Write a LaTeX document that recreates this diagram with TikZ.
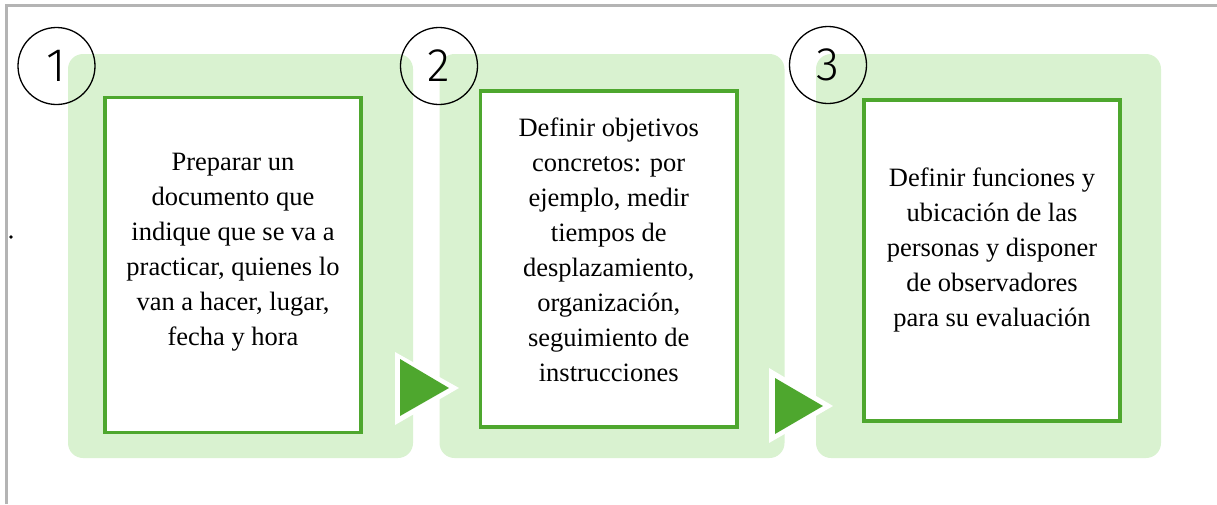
\documentclass[tikz,border=0pt]{standalone}
\usepackage{fontspec}
\setmainfont{Liberation Serif}
\IfFontExistsTF{Fira Sans Light}{\newfontfamily\numfont{Fira Sans Light}}{%
  \IfFontExistsTF{Lato Light}{\newfontfamily\numfont{Lato Light}}{%
    \IfFontExistsTF{Open Sans Light}{\newfontfamily\numfont{Open Sans Light}}{\newfontfamily\numfont{Lato}}}}
\definecolor{panelgreen}{HTML}{D9F2D0}
\definecolor{boxgreen}{HTML}{4EA72E}
\definecolor{framegray}{HTML}{B4B4B4}
\begin{document}
\begin{tikzpicture}[x=1pt,y=-1pt,
  panel/.style={fill=panelgreen, rounded corners=15pt, inner sep=0pt, minimum width=345pt, minimum height=404pt},
  stepbox/.style={draw=boxgreen, line width=3.5pt, fill=white, inner sep=0pt},
  steptext/.style={align=center, text=black, font=\fontsize{26.5pt}{35pt}\selectfont, inner sep=0pt},
  numcircle/.style={circle, draw=black, line width=1.3pt, minimum size=77pt, inner sep=0pt, font=\numfont\fontsize{47pt}{47pt}\selectfont},
]
\useasboundingbox (0,0) rectangle (1217,504);
% frame
\draw[framegray, line width=3pt] (6.5,504) -- (6.5,5) -- (1217,5);
\fill (11,237) circle (1.8pt);
% panels
\node[panel] (p1) at (240.5,256) {};
\node[panel] (p2) at (612,256) {};
\node[panel] (p3) at (988.5,256) {};
% boxes
\node[stepbox, minimum width=256pt, minimum height=335pt] (b1) at (233,265) {};
\node[stepbox, minimum width=256.5pt, minimum height=336pt] (b2) at (608.75,259) {};
\node[stepbox, minimum width=256pt, minimum height=321pt] (b3) at (992,260.5) {};
% texts
\node[steptext] (t1) at (233,252.5) {Preparar un\\documento que\\indique que se va a\\practicar, quienes lo\\van a hacer, lugar,\\fecha y hora};
\node[steptext] (t2) at (608.75,249.5) {Definir objetivos\\concretos: por\\ejemplo, medir\\tiempos de\\desplazamiento,\\organización,\\seguimiento de\\instrucciones};
\node[steptext] (t3) at (992,249.5) {Definir funciones y\\ubicación de las\\personas y disponer\\de observadores\\para su evaluación};
% arrows (triangles)
\fill[white] (395,352) -- (459,388) -- (395,425) -- cycle;
\fill[boxgreen] (400,359) -- (449,388) -- (400,416) -- cycle;
\fill[white] (769,368) -- (833,406) -- (769,443) -- cycle;
\fill[boxgreen] (775,378) -- (823,406) -- (775,434) -- cycle;
% number circles
\node[numcircle] (c1) at (56.5,66) {1};
\node[numcircle] (c2) at (439,66) {2};
\node[numcircle] (c3) at (828,65) {3};
\end{tikzpicture}
\end{document}
